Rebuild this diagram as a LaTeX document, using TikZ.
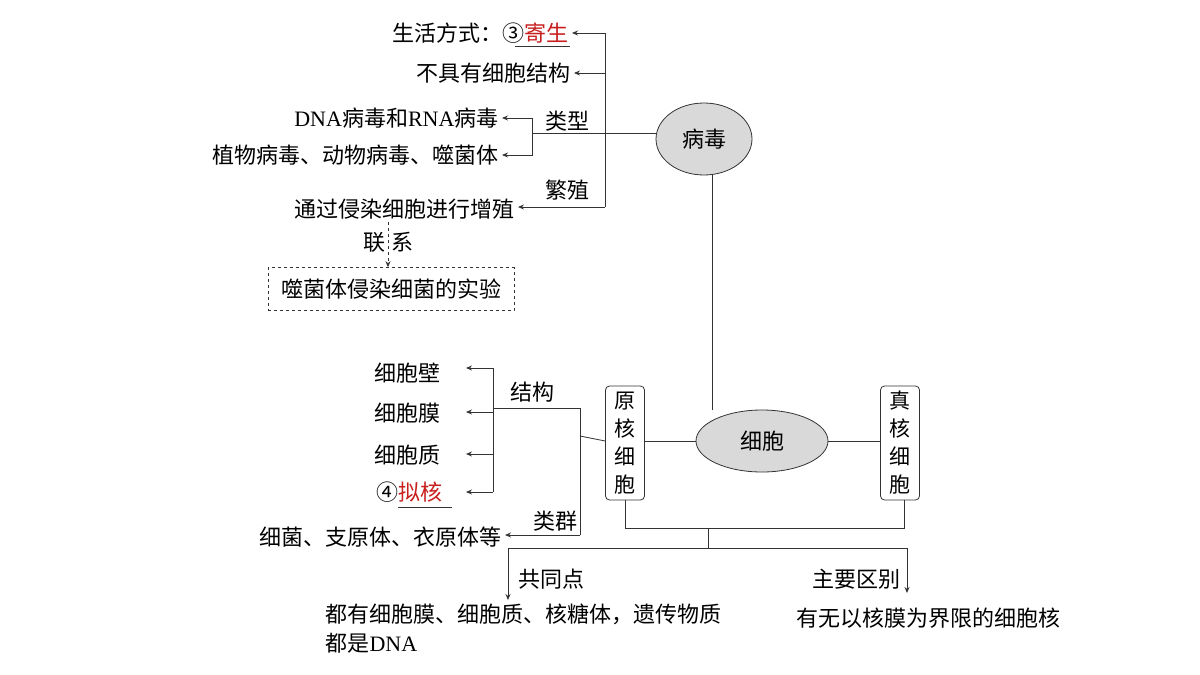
\documentclass[tikz,border=0pt]{standalone}
\usepackage{fontspec}
\setmainfont{Noto Sans CJK SC}
\newfontfamily\latfont{Liberation Serif}
\newcommand{\lat}[1]{{\latfont #1}}
\usetikzlibrary{arrows.meta,shapes.geometric}
\definecolor{fillgray}{RGB}{217,217,217}
\definecolor{keyred}{RGB}{200,30,30}
\begin{document}
\begin{tikzpicture}[x=1pt,y=-1pt,
    font=\fontsize{22}{26}\selectfont,
    link/.style={draw=black!80,line width=0.8pt},
    arr/.style={link,-{Stealth[length=6pt,width=5pt]}},
    hub/.style={ellipse,draw=black!80,fill=fillgray,line width=0.8pt,inner sep=0pt},
    vbox/.style={draw=black!80,rounded corners=4pt,line width=0.8pt,align=center,
      minimum width=39pt,minimum height=114pt,inner sep=1pt,font=\fontsize{21}{28}\selectfont}]
  \fill[white] (0,0) rectangle (1200,675);
  \useasboundingbox (0,0) rectangle (1200,675);
  % main nodes
  \node[hub,minimum width=96pt,minimum height=72pt] (virus) at (704,139) {病毒};
  \node[hub,minimum width=132pt,minimum height=62pt] (cell) at (762,441) {细胞};
  \node[vbox] (pro) at (625,443) {原\\核\\细\\胞};
  \node[vbox] (euk) at (900,443) {真\\核\\细\\胞};
  \draw[link] (virus.south) ++(8,0) coordinate (vs) -- (vs |- cell.north);
  \draw[link] (pro.east |- cell.west) -- (cell.west);
  \draw[link] (cell.east) -- (euk.west |- cell.east);

  % virus branch
  \node[anchor=east] (life) at (572,33) {生活方式：③\textcolor{keyred}{寄生}};
  \node[anchor=east] (nocell) at (574,73) {不具有细胞结构};
  \node[anchor=east] (dnarna) at (502,118) {\lat{DNA}病毒和\lat{RNA}病毒};
  \node[anchor=east] (host) at (502,155) {植物病毒、动物病毒、噬菌体};
  \node[anchor=east] (repro) at (518,209) {通过侵染细胞进行增殖};
  \node (tlx) at (567,121) {类型};
  \node (tfz) at (567,190) {繁殖};
  \draw[black!80,line width=0.6pt] (515,46) -- (570,46);
  \coordinate (vt) at (605,33);
  \coordinate (vb) at (605,207);
  \draw[link] (vt) -- (vb);
  \draw[link] (656,133) -- (545,133);
  \draw[arr] (vt) -- (life.east);
  \draw[arr] (605,73) -- (nocell.east);
  \draw[arr] (vb) -- (repro.east |- vb);
  \draw[link] (545,133) -- (532,133);
  \draw[arr] (532,137) |- (dnarna.east);
  \draw[arr] (532,137) |- (host.east);
  \node[draw=black!80,dashed,line width=0.7pt,minimum width=246pt,minimum height=43pt] (phage) at (391,289) {噬菌体侵染细菌的实验};
  \draw[arr,dashed] (388,222) -- (phage.north -| 388,0);
  \node (lian) at (374,242) {联};
  \node (xi) at (402,242) {系};

  % prokaryote branch
  \node (wall) at (407,373) {细胞壁};
  \node (memb) at (407,413) {细胞膜};
  \node (cyto) at (407,455) {细胞质};
  \node (nucl) at (409,492) {④\textcolor{keyred}{拟核}};
  \draw[black!80,line width=0.6pt] (398,507) -- (452,507);
  \node (tjg) at (532,392) {结构};
  \node (tlq) at (555,521) {类群};
  \node[anchor=east] (bact) at (505,537) {细菌、支原体、衣原体等};
  \coordinate (pj) at (580,408);
  \draw[link] (pro.west |- cell.west) -- (580,436);
  \draw[link] (pj) -- (580,535);
  \draw[arr] (580,535) -- (bact.east |- 0,535);
  \draw[link] (pj) -- (493,408);
  \draw[link] (493,368) -- (493,492);
  \foreach \n/\y in {wall/368,memb/412,cyto/454,nucl/492}
    \draw[arr] (493,\y) -- (466,\y);

  % common / difference
  \draw[link] (pro.south) -- (625,528) -- (904,528) -- (904,500);
  \draw[link] (708,528) -- (708,548);
  \draw[link] (508,548) -- (907,548);
  \draw[arr] (508,548) -- (508,600);
  \draw[arr] (907,548) -- (907,593);
  \node (tgt) at (551,579) {共同点};
  \node (tqb) at (856,579) {主要区别};
  \node[anchor=north west,align=left,font=\fontsize{22}{29}\selectfont] (same) at (322,600) {都有细胞膜、细胞质、核糖体，遗传物质\\都是\lat{DNA}};
  \node (diff) at (928,618) {有无以核膜为界限的细胞核};
\end{tikzpicture}
\end{document}
